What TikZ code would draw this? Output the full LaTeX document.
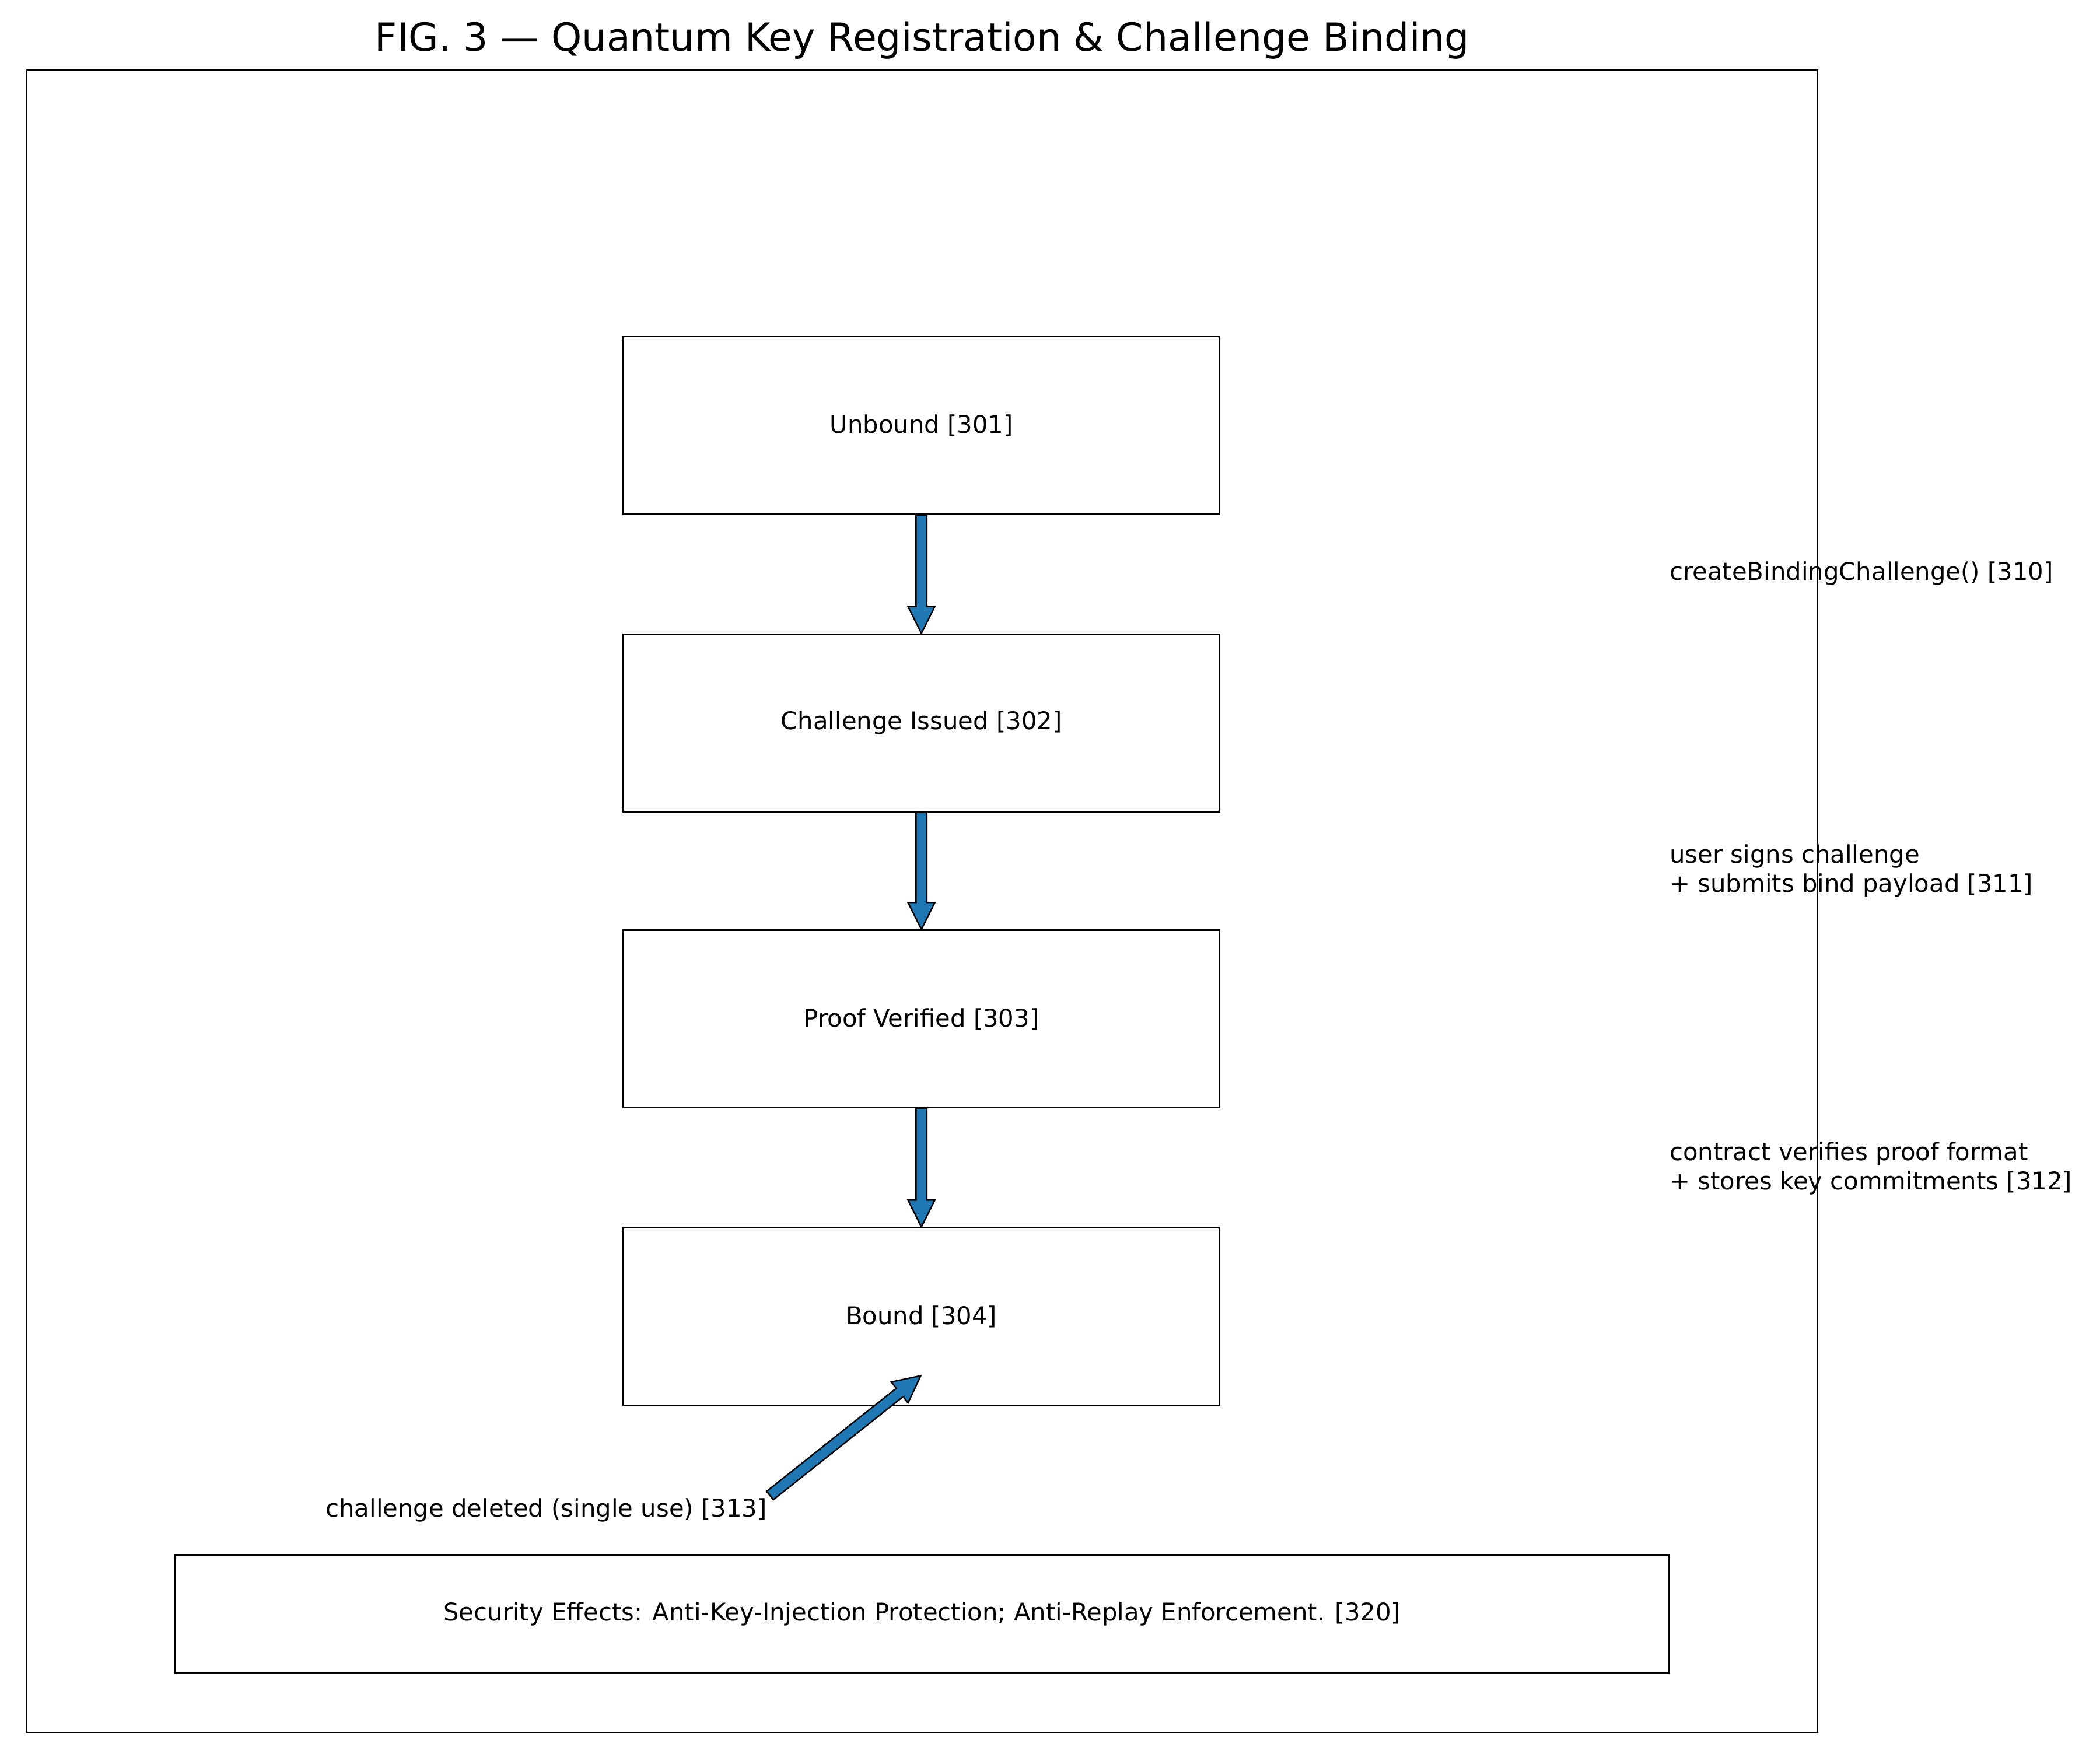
\documentclass[tikz,border=0pt]{standalone}
\usepackage{fontspec}
\setmainfont{DejaVu Sans}
\usetikzlibrary{calc}
\definecolor{mplblue}{HTML}{1F77B4}

% fat outlined arrow between two points
\newcommand\fatarrow[2]{%
  \coordinate (fa-s) at (#1);
  \coordinate (fa-e) at (#2);
  \coordinate (fa-b) at ($(fa-e)!0.4cm!(fa-s)$);
  \draw[fat] ($(fa-s)!0.08cm!90:(fa-e)$) -- ($(fa-b)!0.08cm!-90:(fa-s)$)
    -- ($(fa-b)!0.2cm!-90:(fa-s)$) -- (fa-e) -- ($(fa-b)!0.2cm!90:(fa-s)$)
    -- ($(fa-b)!0.08cm!90:(fa-s)$) -- ($(fa-s)!0.08cm!-90:(fa-e)$) -- cycle;}

\begin{document}
\begin{tikzpicture}[
    x=0.02cm, y=-0.02cm,
    state/.style={rectangle, draw, line width=0.6pt, minimum width=8.86cm, minimum height=2.64cm, font=\fontsize{10.3}{12}\selectfont},
    note/.style={align=left, anchor=west, inner sep=0pt, font=\fontsize{10.3}{12.5}\selectfont},
    fat/.style={draw=black, fill=mplblue, line width=0.6pt, line join=miter}
    ]
    \useasboundingbox (0,0) rectangle (1560,1300);

    % title and frame
    \node[font=\fontsize{16.4}{19}\selectfont] (title) at (685,30) {FIG. 3 — Quantum Key Registration \& Challenge Binding};
    \draw[line width=0.6pt] (20,52) rectangle (1350,1287);

    % states
    \node[state] (unbound) at (684.5,316) {Unbound [301]};
    \node[state] (issued) at (684.5,537) {Challenge Issued [302]};
    \node[state] (verified) at (684.5,757) {Proof Verified [303]};
    \node[state] (bound) at (684.5,978) {Bound [304]};

    % transition labels
    \node[note] (t310) at (1240,426) {createBindingChallenge() [310]};
    \node[note] (t311) at (1240,647) {user signs challenge\\+ submits bind payload [311]};
    \node[note] (t312) at (1240,868) {contract verifies proof format\\+ stores key commitments [312]};

    % transitions
    \fatarrow{unbound.south}{issued.north}
    \fatarrow{issued.south}{verified.north}
    \fatarrow{verified.south}{bound.north}

    % single use note
    \node[anchor=east, inner sep=0pt, font=\fontsize{10.3}{12}\selectfont] (t313) at (570,1122) {challenge deleted (single use) [313]};
    \coordinate (t313tip) at (684,1022);
    \fatarrow{572,1111}{t313tip}

    % security box
    \node[rectangle, draw, line width=0.6pt, minimum width=22.2cm, minimum height=1.76cm, font=\fontsize{10.3}{12}\selectfont] (security) at (685,1199) {Security Effects: Anti-Key-Injection Protection; Anti-Replay Enforcement. [320]};
\end{tikzpicture}
\end{document}
